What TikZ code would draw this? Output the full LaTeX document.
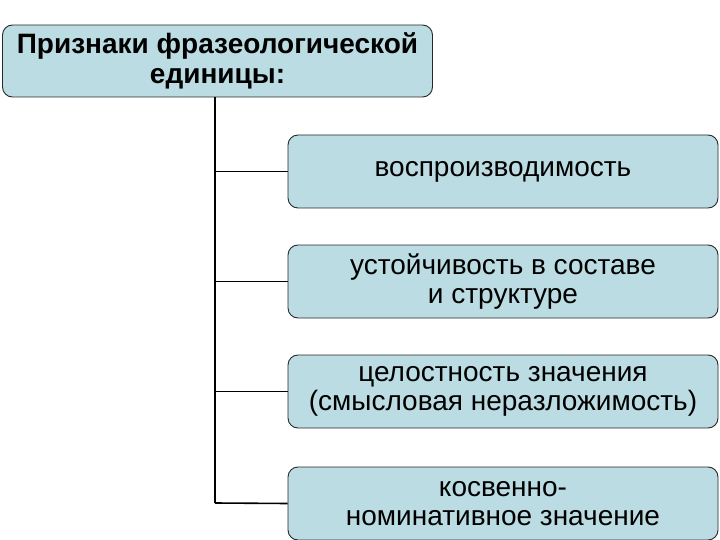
\documentclass[tikz,border=0pt]{standalone}
\usepackage{fontspec}
\setmainfont{Liberation Sans}
\definecolor{boxfill}{RGB}{186,220,226}
\definecolor{boxline}{RGB}{40,40,40}
\begin{document}
\begin{tikzpicture}[x=1pt,y=-1pt,
  box/.style={draw=boxline, line width=0.9pt, fill=boxfill, rounded corners=10pt,
    minimum width=430pt, minimum height=73pt, inner sep=0pt, align=center,
    font=\fontsize{28}{29.5}\selectfont},
  headbox/.style={box, font=\bfseries\fontsize{28}{30}\selectfont, minimum height=72pt},
  conn/.style={draw=black, line width=1.6pt}]
\useasboundingbox (0,0) rectangle (720,540);
\node[headbox] (top) at (217.5,61) {Признаки фразеологической\\единицы:};
\node[box] (b1) at (503,171.5) {воспроизводимость};
\node[box] (b2) at (503,281.5) {устойчивость в составе\\и структуре};
\node[box] (b3) at (503,391.5) {целостность значения\\(смысловая неразложимость)};
\node[box] (b4) at (503,503.5) {косвенно-\\номинативное значение};
\coordinate (trunk) at (215,503);
\draw[conn] (top.south -| trunk) -- (trunk);
\draw[conn] (b1.west -| trunk) -- (b1.west);
\draw[conn] (b2.west -| trunk) -- (b2.west);
\draw[conn] (b3.west -| trunk) -- (b3.west);
\draw[conn] (trunk) -- (b4.west);
\end{tikzpicture}
\end{document}
